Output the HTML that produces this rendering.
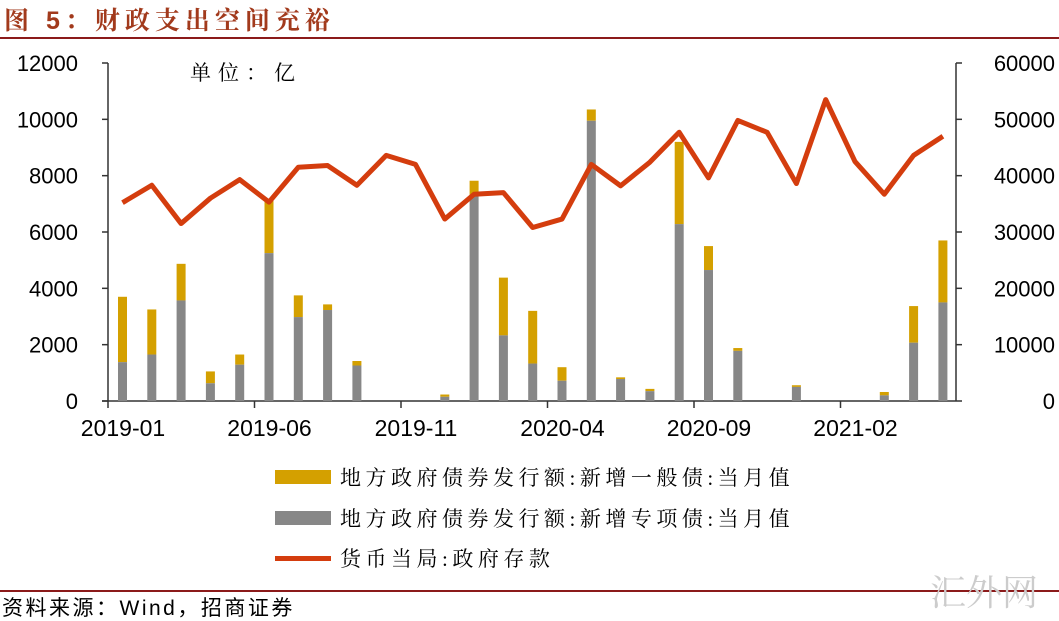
<!DOCTYPE html>
<html><head><meta charset="utf-8"><style>
html,body{margin:0;padding:0;background:#fff;width:1059px;height:621px;overflow:hidden}
svg{display:block}
.t{font-family:"Liberation Sans",Arial,sans-serif;font-size:22px;fill:#000}
.c{font-family:"Liberation Serif","Noto Serif CJK SC",serif;font-size:21px;fill:#000;letter-spacing:4.5px}
</style></head><body>
<svg width="1059" height="621" xmlns="http://www.w3.org/2000/svg">
<text x="4" y="29" style="font-family:'Liberation Sans','Noto Serif CJK SC',serif;font-size:25px;font-weight:bold;fill:#a23a1c;letter-spacing:5px">图 <tspan style="font-family:'Liberation Sans',sans-serif">5</tspan>：财政支出空间充裕</text>
<rect x="0" y="37" width="1059" height="2" fill="#8b1a1a"/>
<rect x="0" y="590" width="1059" height="2" fill="#8b1a1a"/>
<text x="2" y="615" style="font-family:'Liberation Sans','Noto Sans CJK SC',sans-serif;font-size:21px;fill:#000;letter-spacing:2.5px">资料来源：Wind，招商证券</text>
<text x="930" y="605" style="font-family:'Noto Serif CJK SC',serif;font-size:36px;fill:#ccc">汇外网</text>
<g id="ch"></g>
</svg>
<script>
const g=document.getElementById('ch');let s='';
const L=108,R=956,B=401,T=63,H=B-T;
const yl=v=>B-v/12000*H, yr=v=>B-v/60000*H;
s+=`<line x1="${L}" y1="${T}" x2="${L}" y2="${B}" stroke="#333" stroke-width="1.5"/>`;
s+=`<line x1="${R}" y1="${T}" x2="${R}" y2="${B}" stroke="#333" stroke-width="1.5"/>`;
s+=`<line x1="${L-6}" y1="${B}" x2="${R}" y2="${B}" stroke="#333" stroke-width="1.5"/>`;
for(let i=0;i<=6;i++){const y=yl(i*2000);
s+=`<line x1="${L-6}" y1="${y}" x2="${L}" y2="${y}" stroke="#333" stroke-width="1.5"/>`;
s+=`<line x1="${R}" y1="${y}" x2="${R+6}" y2="${y}" stroke="#333" stroke-width="1.5"/>`;
s+=`<text class="t" x="78" y="${y+8}" text-anchor="end">${i*2000}</text>`;
s+=`<text class="t" x="1055" y="${y+8}" text-anchor="end">${i*10000}</text>`;}
const sp=29.3,x0=122.5;
const labs=['2019-01','2019-06','2019-11','2020-04','2020-09','2021-02'];
labs.forEach((l,i)=>{const x=L+i*5*sp;s+=`<line x1="${x}" y1="${B}" x2="${x}" y2="${B+7}" stroke="#333" stroke-width="1.5"/><text class="t" x="${x+15}" y="${B+35}" text-anchor="middle" style="font-size:23px">${l}</text>`;});
const tot=[3700,3250,4870,1050,1650,7100,3750,3430,1420,0,0,230,7820,4380,3200,1200,10350,840,430,9200,5500,1880,0,560,0,0,320,3370,5700];
const gr=[1380,1650,3570,630,1290,5250,2980,3230,1260,0,0,150,7300,2330,1330,720,9950,780,350,6280,4650,1780,0,500,0,0,200,2070,3500];
const ln=[35200,38300,31500,36000,39300,35300,41500,41800,38300,43600,42000,32300,36700,37000,30800,32300,42000,38200,42400,47700,39600,49800,47700,38600,53500,42500,36700,43600,47000];
tot.forEach((t,i)=>{const x=x0+i*sp-4.5;if(t>0){
s+=`<rect x="${x}" y="${yl(t)}" width="9" height="${yl(gr[i])-yl(t)}" fill="#d4a000"/>`;
s+=`<rect x="${x}" y="${yl(gr[i])}" width="9" height="${B-yl(gr[i])}" fill="#878787"/>`;}});
s+=`<polyline fill="none" stroke="#d43d0e" stroke-width="5" stroke-linejoin="round" points="${ln.map((v,i)=>(x0+i*sp)+','+yr(v)).join(' ')}"/>`;
s+=`<text class="c" x="190" y="80" style="letter-spacing:7px">单位：亿</text>`;
s+=`<rect x="275" y="470" width="56" height="14" fill="#d4a000"/><text class="c" x="340" y="485">地方政府债券发行额:新增一般债:当月值</text>`;
s+=`<rect x="275" y="511" width="56" height="14" fill="#878787"/><text class="c" x="340" y="526">地方政府债券发行额:新增专项债:当月值</text>`;
s+=`<rect x="275" y="556" width="56" height="5" fill="#d43d0e"/><text class="c" x="340" y="566">货币当局:政府存款</text>`;
g.innerHTML=s;
</script>
</body></html>
